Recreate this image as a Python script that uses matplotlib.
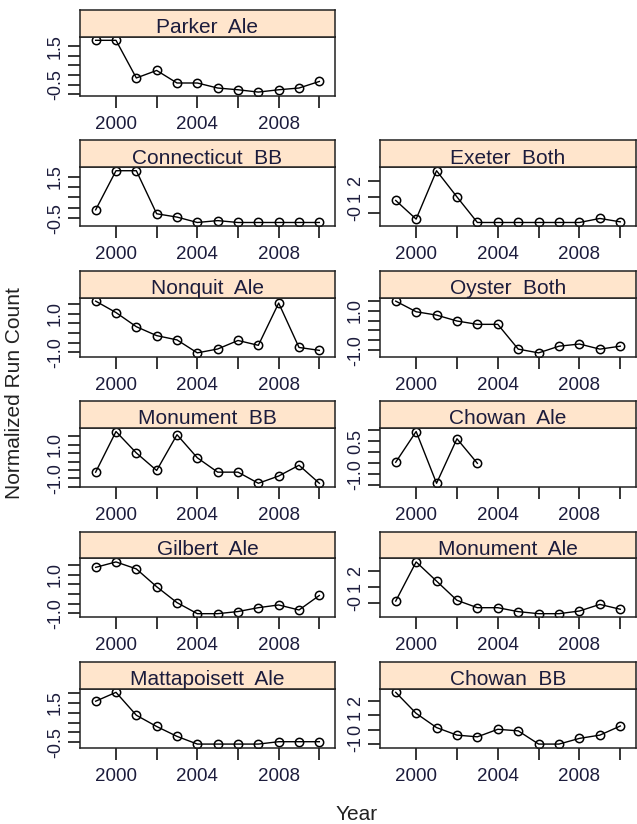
import numpy as np
import matplotlib
matplotlib.use('Agg')
import matplotlib.pyplot as plt
from matplotlib import font_manager as fm

plt.rcParams['font.family'] = 'Liberation Sans'

# normalized run counts by year
years = [1999, 2000, 2001, 2002, 2003, 2004, 2005, 2006, 2007, 2008, 2009, 2010]

parker_ale = [1.80, 1.80, -0.15, 0.24, -0.41, -0.41, -0.67, -0.76, -0.88, -0.76, -0.67, -0.33]
connecticut_bb = [-0.10, 1.79, 1.79, -0.29, -0.45, -0.71, -0.62, -0.71, -0.71, -0.71, -0.71, -0.71]
exeter_both = [0.78, -0.38, 2.63, 1.00, -0.59, -0.59, -0.59, -0.59, -0.59, -0.59, -0.34, -0.55]
nonquit_ale = [1.64, 1.05, 0.32, -0.14, -0.36, -1.03, -0.83, -0.39, -0.64, 1.54, -0.75, -0.90]
oyster_both = [1.49, 0.95, 0.78, 0.48, 0.31, 0.31, -0.95, -1.14, -0.80, -0.69, -0.95, -0.80]
monument_bb = [-0.63, 1.78, 0.51, -0.53, 1.59, 0.22, -0.63, -0.63, -1.29, -0.86, -0.22, -1.29]
chowan_ale = [-0.45, 0.95, -1.41, 0.62, -0.50]
gilbert_ale = [1.37, 1.65, 1.29, 0.37, -0.45, -1.02, -1.02, -0.91, -0.71, -0.57, -0.83, -0.08]
monument_ale = [0.10, 2.59, 1.37, 0.15, -0.32, -0.32, -0.57, -0.70, -0.70, -0.53, -0.11, -0.42]
mattapoisett_ale = [1.58, 2.03, 0.87, 0.30, -0.20, -0.59, -0.59, -0.59, -0.59, -0.47, -0.47, -0.47]
chowan_bb = [2.63, 1.15, 0.15, -0.38, -0.50, 0.03, -0.08, -1.01, -1.01, -0.61, -0.38, 0.26]

xtick_years = [2000, 2002, 2004, 2006, 2008, 2010]
xtick_labels = ['2000', '', '2004', '', '2008', '']

# (title, values, row, col, tick step, labelled ticks)
panels = [
    ('Parker  Ale', parker_ale, 0, 0, 0.5, [-0.5, 1.5]),
    ('Connecticut  BB', connecticut_bb, 1, 0, 0.5, [-0.5, 1.5]),
    ('Exeter  Both', exeter_both, 1, 1, 1.0, [0, 1, 2]),
    ('Nonquit  Ale', nonquit_ale, 2, 0, 0.5, [-1.0, 1.0]),
    ('Oyster  Both', oyster_both, 2, 1, 0.5, [-1.0, 1.0]),
    ('Monument  BB', monument_bb, 3, 0, 0.5, [-1.0, 1.0]),
    ('Chowan  Ale', chowan_ale, 3, 1, 0.5, [-1.0, 0.5]),
    ('Gilbert  Ale', gilbert_ale, 4, 0, 0.5, [-1.0, 1.0]),
    ('Monument  Ale', monument_ale, 4, 1, 1.0, [0, 1, 2]),
    ('Mattapoisett  Ale', mattapoisett_ale, 5, 0, 0.5, [-0.5, 1.5]),
    ('Chowan  BB', chowan_bb, 5, 1, 1.0, [-1, 0, 1, 2]),
]

W, H = 637, 824
col_x = [(80, 335), (380, 636)]
row0, pitch, ph, sh = 36.7, 130.4, 59.0, 26.7

names = {f.name for f in fm.fontManager.ttflist}
yfont = 'Liberation Sans Narrow' if 'Liberation Sans Narrow' in names else 'Liberation Sans'
txtcol = '#1c1c3c'


def rect(x0, y0, x1, y1):
    return [x0 / W, 1 - y1 / H, (x1 - x0) / W, (y1 - y0) / H]


fig = plt.figure(figsize=(W / 100, H / 100), dpi=100)

xpad = 0.07 * (years[-1] - years[0])
for title, vals, r, c, step, labelled in panels:
    x0, x1 = col_x[c]
    top = row0 + pitch * r
    ax = fig.add_axes(rect(x0, top, x1, top + ph))
    ax.plot(years[:len(vals)], vals, '-o', color='black', lw=1.0, ms=6,
            mfc='none', mew=1.1, clip_on=True)
    ax.set_xlim(years[0] - xpad, years[-1] + xpad)
    lo, hi = min(vals), max(vals)
    pad = 0.07 * (hi - lo)
    ax.set_ylim(lo - pad, hi + pad)
    ticks = np.arange(np.ceil((lo - pad) / step) * step, hi + pad, step)
    ax.set_yticks(ticks)
    fmt = '{:.0f}' if step >= 1 else '{:.1f}'
    ax.set_yticklabels([fmt.format(t) if any(abs(t - l) < 1e-6 for l in labelled) else ''
                        for t in ticks], rotation=90, va='center', family=yfont,
                       fontsize=13, color=txtcol)
    ax.set_xticks(xtick_years)
    ax.set_xticklabels(xtick_labels, fontsize=13.5, color=txtcol)
    ax.tick_params(axis='x', direction='out', length=8.5, width=1.1, pad=6)
    ax.tick_params(axis='y', direction='out', length=8.5, width=1.1, pad=3)
    for s in ax.spines.values():
        s.set_linewidth(1.1)
        s.set_color('#222222')

    sax = fig.add_axes(rect(x0, top - sh, x1, top))
    sax.set_facecolor('#ffe5cc')
    sax.set_xticks([])
    sax.set_yticks([])
    for s in sax.spines.values():
        s.set_linewidth(1.1)
        s.set_color('#222222')
    sax.text(0.5, 0.13, title, ha='center', va='baseline', fontsize=15,
             color=txtcol, transform=sax.transAxes)

fig.text(15 / W, 1 - 393 / H, 'Normalized Run Count', rotation=90,
         ha='center', va='center', fontsize=15, color='#222222')
fig.text(357 / W, 1 - 814 / H, 'Year', ha='center', va='center',
         fontsize=15, color='#222222')

fig.savefig('out.png', dpi=100)
